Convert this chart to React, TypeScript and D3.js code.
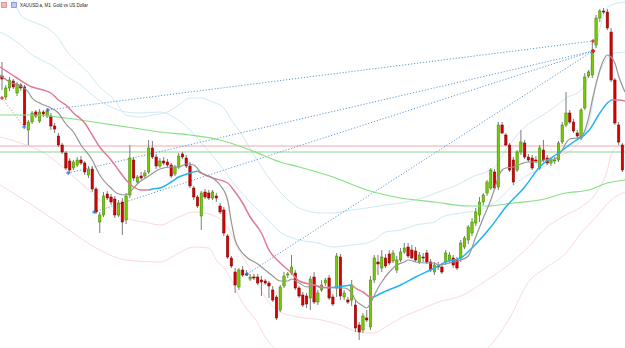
import React from "react";
import * as d3 from "d3";

const W = 625;
const H = 348;

const title = "XAUUSD.a, M1: Gold vs US Dollar";

// OHLC of the visible M1 bars, oldest first
const opens = [
  2427.4, 2425.3, 2426.2, 2426.9, 2425.7, 2426.5, 2426.3, 2422.0, 2422.8, 2423.8,
  2422.9, 2423.8, 2423.4, 2423.4, 2422.4, 2421.4, 2420.5, 2419.7, 2418.9, 2418.2,
  2418.5, 2419.0, 2418.7, 2417.5, 2418.1, 2416.1, 2412.8, 2413.5, 2415.6, 2415.3,
  2415.1, 2413.5, 2414.8, 2413.0, 2415.5, 2419.0, 2416.8, 2417.4, 2417.4, 2417.8,
  2420.2, 2419.3, 2418.4, 2418.9, 2418.8, 2418.5, 2417.6, 2418.3, 2419.6, 2419.2,
  2418.4, 2416.2, 2415.3, 2413.4, 2415.8, 2415.7, 2415.2, 2415.4, 2414.4, 2414.0,
  2411.4, 2409.2, 2407.8, 2406.3, 2408.0, 2407.6, 2407.1, 2407.3, 2407.3, 2407.0,
  2406.9, 2406.7, 2406.0, 2405.3, 2404.0, 2406.4, 2407.5, 2407.7, 2407.7, 2406.2,
  2405.5, 2405.4, 2405.2, 2407.3, 2404.8, 2406.0, 2406.7, 2407.2, 2405.3, 2406.2,
  2409.3, 2405.3, 2405.0, 2405.0, 2404.5, 2402.5, 2402.0, 2403.2, 2402.3, 2407.0,
  2408.8, 2408.2, 2409.2, 2409.6, 2408.9, 2408.0, 2409.0, 2409.8, 2410.3, 2410.0,
  2409.9, 2408.8, 2409.3, 2409.7, 2408.8, 2407.8, 2408.4, 2408.3, 2408.8, 2409.0,
  2409.2, 2409.0, 2409.2, 2410.3, 2411.0, 2411.7, 2412.7, 2413.5, 2414.8, 2415.7,
  2416.2, 2417.8, 2416.3, 2422.5, 2421.5, 2420.5, 2419.0, 2418.0, 2419.8, 2420.7,
  2419.3, 2419.2, 2419.0, 2418.2, 2420.0, 2419.2, 2418.7, 2418.9, 2419.0, 2420.8,
  2422.5, 2423.7, 2422.8, 2421.7, 2421.2, 2424.2, 2427.4, 2427.5, 2430.5, 2433.2,
  2433.9, 2433.8, 2431.8, 2427.0, 2422.5, 2420.5,
];
const highs = [
  2428.8, 2426.5, 2427.3, 2427.1, 2426.8, 2426.7, 2426.5, 2423.0, 2423.9, 2424.0,
  2424.1, 2424.0, 2424.2, 2423.7, 2422.7, 2421.7, 2420.7, 2419.9, 2419.2, 2419.0,
  2419.3, 2419.4, 2418.9, 2418.4, 2418.4, 2416.3, 2413.8, 2415.8, 2415.9, 2415.6,
  2415.4, 2415.0, 2415.2, 2415.7, 2420.5, 2419.3, 2417.5, 2417.8, 2418.0, 2421.0,
  2420.9, 2419.6, 2419.2, 2419.3, 2419.1, 2418.7, 2418.5, 2419.7, 2419.8, 2419.5,
  2418.8, 2416.4, 2415.5, 2415.9, 2416.1, 2416.0, 2416.0, 2415.7, 2414.7, 2414.3,
  2411.6, 2409.4, 2408.2, 2408.2, 2408.4, 2408.0, 2407.6, 2407.6, 2407.6, 2407.4,
  2407.1, 2406.9, 2406.4, 2405.5, 2406.5, 2407.8, 2407.8, 2409.5, 2408.0, 2406.4,
  2405.8, 2405.7, 2407.4, 2407.8, 2406.0, 2407.0, 2407.2, 2407.5, 2405.6, 2409.7,
  2409.6, 2406.0, 2405.3, 2407.0, 2405.0, 2402.8, 2403.7, 2404.0, 2407.4, 2409.5,
  2409.5, 2410.0, 2409.6, 2410.0, 2410.0, 2409.4, 2410.2, 2410.7, 2410.7, 2410.5,
  2410.3, 2409.8, 2409.7, 2410.0, 2409.1, 2408.8, 2408.8, 2408.6, 2410.0, 2409.8,
  2409.5, 2409.3, 2411.0, 2411.4, 2412.5, 2413.2, 2414.2, 2415.3, 2415.7, 2417.0,
  2418.2, 2418.1, 2422.8, 2422.8, 2421.7, 2420.7, 2419.3, 2420.0, 2422.0, 2421.0,
  2419.6, 2419.5, 2419.4, 2420.5, 2421.0, 2419.5, 2419.2, 2419.3, 2420.9, 2422.8,
  2425.8, 2424.0, 2423.1, 2422.0, 2424.2, 2427.7, 2428.0, 2431.0, 2433.5, 2434.1,
  2434.2, 2434.1, 2432.2, 2427.2, 2422.8, 2420.7,
];
const lows = [
  2426.0, 2425.0, 2425.9, 2426.1, 2425.4, 2425.9, 2422.3, 2420.5, 2422.6, 2423.2,
  2422.7, 2423.3, 2423.2, 2422.0, 2421.7, 2420.3, 2419.6, 2418.0, 2417.7, 2418.0,
  2418.3, 2418.5, 2417.5, 2417.2, 2415.8, 2413.6, 2411.7, 2413.3, 2415.0, 2414.5,
  2413.2, 2413.3, 2411.5, 2412.6, 2415.2, 2416.9, 2416.6, 2417.0, 2417.2, 2417.6,
  2419.1, 2418.1, 2418.2, 2418.5, 2418.3, 2417.2, 2417.4, 2418.1, 2419.1, 2418.2,
  2416.2, 2415.0, 2414.2, 2412.0, 2415.1, 2415.0, 2415.0, 2414.8, 2413.6, 2411.4,
  2409.1, 2408.2, 2405.7, 2406.0, 2407.3, 2407.4, 2406.9, 2407.0, 2406.5, 2405.4,
  2406.5, 2405.2, 2404.8, 2403.0, 2403.8, 2406.2, 2407.2, 2407.5, 2406.0, 2405.2,
  2404.3, 2404.2, 2404.0, 2404.6, 2404.5, 2405.8, 2406.4, 2405.0, 2404.4, 2405.3,
  2405.0, 2405.0, 2404.6, 2404.4, 2401.8, 2401.0, 2401.7, 2402.8, 2402.0, 2406.7,
  2407.5, 2407.8, 2408.2, 2408.5, 2408.7, 2407.7, 2408.8, 2409.6, 2409.2, 2409.1,
  2408.8, 2408.6, 2408.8, 2408.6, 2407.8, 2407.5, 2408.0, 2407.6, 2408.5, 2408.7,
  2408.2, 2408.0, 2408.8, 2410.1, 2410.6, 2411.4, 2412.4, 2412.8, 2414.5, 2415.4,
  2416.0, 2416.0, 2416.0, 2421.6, 2420.4, 2417.8, 2416.5, 2417.8, 2419.5, 2419.1,
  2418.8, 2418.0, 2418.7, 2418.0, 2418.8, 2418.5, 2418.4, 2418.6, 2418.8, 2420.6,
  2422.3, 2422.6, 2421.7, 2421.1, 2421.0, 2424.0, 2427.2, 2427.2, 2430.2, 2432.8,
  2433.6, 2432.0, 2426.8, 2422.5, 2420.5, 2417.8,
];
const closes = [
  2427.1, 2426.2, 2427.0, 2426.3, 2426.6, 2426.2, 2422.5, 2422.8, 2423.7, 2423.4,
  2423.8, 2423.6, 2423.9, 2422.4, 2422.1, 2420.5, 2419.8, 2418.2, 2418.0, 2418.8,
  2419.0, 2418.7, 2417.8, 2418.1, 2416.1, 2413.8, 2413.5, 2415.4, 2415.2, 2414.8,
  2413.5, 2414.7, 2412.8, 2415.4, 2419.2, 2417.2, 2417.3, 2417.2, 2417.7, 2420.2,
  2419.3, 2418.4, 2418.9, 2418.7, 2418.5, 2417.4, 2418.3, 2419.4, 2419.3, 2418.4,
  2416.4, 2415.3, 2414.4, 2415.7, 2415.3, 2415.2, 2415.8, 2415.2, 2413.8, 2411.7,
  2409.3, 2408.4, 2406.5, 2408.0, 2407.5, 2407.5, 2407.3, 2407.2, 2406.7, 2406.8,
  2406.7, 2406.4, 2405.0, 2403.2, 2406.3, 2407.4, 2407.6, 2408.3, 2406.2, 2405.4,
  2404.5, 2404.6, 2407.1, 2404.8, 2405.7, 2406.5, 2407.0, 2405.2, 2404.6, 2409.4,
  2405.4, 2405.7, 2404.8, 2406.5, 2402.2, 2401.8, 2403.4, 2403.0, 2407.0, 2409.2,
  2408.6, 2409.3, 2408.4, 2408.7, 2409.7, 2409.0, 2409.8, 2410.2, 2409.4, 2409.2,
  2409.0, 2409.5, 2409.2, 2408.8, 2408.0, 2408.5, 2408.3, 2407.8, 2409.7, 2409.5,
  2408.5, 2408.2, 2410.7, 2411.2, 2412.3, 2412.8, 2413.8, 2414.8, 2415.5, 2416.8,
  2418.0, 2416.2, 2422.5, 2421.7, 2420.5, 2418.0, 2416.8, 2419.8, 2420.8, 2419.3,
  2419.0, 2418.2, 2418.9, 2420.2, 2419.0, 2418.7, 2419.0, 2419.0, 2420.7, 2422.5,
  2423.7, 2422.8, 2421.9, 2421.4, 2424.0, 2427.3, 2427.8, 2430.0, 2433.2, 2433.9,
  2433.8, 2432.2, 2427.0, 2422.7, 2420.8, 2418.0,
];

type Pt = [number, number]; // [bar index, price]

// fast moving average (grey)
const fastMa: Pt[] = [
  [-0.5, 2427.5], [2, 2426.8], [5, 2426.4], [7, 2425.8], [8, 2425.2], [10, 2424.7],
  [13, 2424.2], [15, 2423.7], [17, 2422.6], [19, 2421.8], [21, 2420.5], [24, 2419.0],
  [26, 2417.5], [29, 2416.2], [31, 2415.6], [33, 2415.5], [34, 2415.8], [36, 2416.6],
  [39, 2417.4], [41, 2417.9], [42, 2418.1], [45, 2418.3], [47, 2418.3], [49, 2418.6],
  [51, 2418.5], [53, 2417.7], [56, 2417.2], [58, 2416.5], [60, 2415.0], [61, 2412.8],
  [62, 2411.0], [63, 2410.2], [65, 2409.3], [68, 2408.6], [70, 2408.0], [72, 2407.4],
  [74, 2406.9], [76, 2406.9], [77, 2407.1], [79, 2406.7], [81, 2406.3], [83, 2406.5],
  [85, 2406.2], [87, 2406.3], [89, 2406.2], [91, 2406.2], [93, 2405.7], [94, 2405.0],
  [96, 2404.4], [97, 2404.2], [98, 2404.7], [100, 2406.2], [101, 2406.8], [103, 2407.8],
  [105, 2408.5], [107, 2408.8], [108, 2409.0], [110, 2408.8], [113, 2408.7], [115, 2408.7],
  [116, 2408.5], [118, 2408.6], [120, 2408.8], [122, 2409.0], [124, 2409.4], [126, 2411.3],
  [128, 2413.2], [130, 2415.0], [131, 2416.1], [132, 2417.3], [133, 2418.0], [134, 2418.2],
  [136, 2418.3], [138, 2418.6], [140, 2418.8], [143, 2418.8], [144, 2419.0], [147, 2419.1],
  [149, 2420.0], [150, 2420.7], [151, 2421.1], [153, 2421.2], [154, 2421.3], [156, 2423.2],
  [157, 2425.0], [159, 2428.0], [160, 2429.0], [161, 2429.5], [162, 2429.3], [163, 2428.7],
  [164, 2427.4], [165, 2426.4], [165.7, 2425.8],
];

// trend moving average, blue while rising and pink while falling
const trendMa: Pt[] = [
  [-0.5, 2428.3], [4, 2427.2], [8, 2426.3], [11, 2426.0], [13, 2425.7], [15, 2425.0],
  [17, 2424.5], [19, 2423.7], [22, 2422.7], [24, 2421.5], [26, 2420.3], [29, 2419.0],
  [31, 2418.0], [33, 2417.0], [35, 2416.3], [37, 2416.0], [39, 2416.0], [40, 2416.1],
  [42, 2416.2], [45, 2416.8], [47, 2417.3], [50, 2417.7], [52, 2417.9], [53, 2417.7],
  [56, 2417.2], [60, 2416.7], [62, 2415.8], [64, 2414.7], [66, 2413.3], [69, 2411.7],
  [71, 2410.0], [74, 2408.7], [77, 2407.7], [79, 2406.9], [83, 2406.5], [85, 2406.3],
  [87, 2406.2], [89, 2406.3], [91, 2406.4], [93, 2406.5], [94, 2406.2], [96, 2405.8],
  [98, 2405.3], [99, 2405.3], [101, 2405.7], [106, 2406.5], [110, 2407.3], [115, 2408.2],
  [118, 2408.8], [122, 2409.2], [125, 2410.2], [130, 2412.3], [134, 2414.3], [139, 2416.3],
  [143, 2418.3], [148, 2419.7], [152, 2420.8], [156, 2421.9], [159, 2423.7], [161, 2424.7],
  [162, 2425.0], [164, 2425.0], [165.7, 2424.9],
];

// slow moving average (green)
const slowMa: Pt[] = [
  [-0.5, 2423.5], [8, 2423.5], [17, 2423.2], [26, 2422.7], [35, 2422.2], [42, 2421.8],
  [50, 2421.5], [58, 2421.0], [66, 2420.0], [74, 2418.8], [79, 2418.3], [88, 2417.3],
  [97, 2416.0], [106, 2415.2], [115, 2414.8], [124, 2414.4], [129, 2414.4], [136, 2414.7],
  [143, 2415.0], [150, 2415.7], [156, 2416.0], [161, 2416.7], [165.7, 2417.0],
];

// envelope bands
const upperOuter: Pt[] = [
  [-0.5, 2436.5], [3, 2435.0], [5, 2433.5], [7, 2433.0], [9, 2432.7], [12, 2432.2],
  [15, 2431.2], [17, 2430.0], [20, 2428.8], [23, 2427.7], [26, 2426.3], [30, 2425.0],
  [33, 2423.5], [37, 2423.3], [40, 2423.5], [44, 2423.8], [47, 2424.5], [50, 2425.2],
  [53, 2425.2], [56, 2424.8], [59, 2424.2], [61, 2423.0], [63, 2422.0], [67, 2419.5],
  [71, 2417.2], [75, 2415.4], [79, 2414.2], [85, 2413.7], [88, 2413.7], [93, 2414.0],
  [97, 2414.2], [102, 2414.5], [106, 2414.7], [111, 2415.1], [116, 2415.8], [121, 2416.5],
  [125, 2417.3], [131, 2418.3], [134, 2420.0], [139, 2422.3], [143, 2423.3], [147, 2424.3],
  [150, 2425.2], [154, 2426.0], [156, 2427.5], [158, 2430.5], [160, 2433.5], [162, 2434.5],
  [165.7, 2434.8],
];
const upperInner: Pt[] = [
  [-0.5, 2431.8], [2, 2431.3], [5, 2430.5], [8, 2429.5], [11, 2428.9], [14, 2428.3],
  [17, 2427.4], [21, 2426.5], [24, 2425.5], [29, 2424.3], [33, 2423.8], [37, 2423.7],
  [42, 2423.8], [46, 2423.2], [50, 2422.0], [54, 2420.3], [58, 2418.5], [63, 2416.0],
  [69, 2413.7], [74, 2411.8], [79, 2411.0], [84, 2410.7], [88, 2410.3], [93, 2410.5],
  [97, 2410.7], [99, 2411.0], [102, 2411.8], [106, 2412.0], [110, 2412.5], [115, 2412.8],
  [117, 2413.3], [122, 2413.7], [127, 2414.0], [132, 2415.0], [136, 2416.5], [140, 2417.5],
  [145, 2418.5], [148, 2419.3], [152, 2420.2], [156, 2422.5], [158, 2426.5], [161, 2429.2],
  [163, 2429.7], [165.7, 2429.8],
];
const lowerInner: Pt[] = [
  [-0.5, 2421.3], [5, 2420.7], [12, 2419.5], [17, 2418.0], [24, 2415.7], [31, 2413.5],
  [39, 2412.7], [42, 2412.5], [47, 2413.3], [51, 2413.8], [55, 2413.6], [60, 2412.3],
  [63, 2410.0], [67, 2407.5], [70, 2405.3], [74, 2403.8], [79, 2403.3], [85, 2403.0],
  [90, 2402.5], [95, 2401.8], [99, 2401.7], [102, 2402.3], [106, 2403.2], [111, 2404.0],
  [116, 2404.8], [122, 2405.4], [129, 2407.0], [134, 2408.3], [140, 2410.3], [145, 2412.3],
  [149, 2413.3], [154, 2414.3], [158, 2415.7], [161, 2418.0], [162, 2419.5], [164, 2420.4],
  [165.7, 2420.5],
];
const lowerOuter: Pt[] = [
  [-0.5, 2416.5], [8, 2414.5], [17, 2412.2], [26, 2410.0], [33, 2409.0], [42, 2408.8],
  [47, 2409.7], [51, 2410.3], [55, 2410.2], [57, 2409.0], [60, 2407.7], [64, 2404.7],
  [68, 2402.7], [70, 2401.3], [73, 2400.0], [79, 2398.5], [106, 2397.8], [122, 2398.8],
  [130, 2400.5], [135, 2403.2], [140, 2406.8], [145, 2408.3], [150, 2409.7], [154, 2411.7],
  [158, 2413.3], [162, 2415.0], [165.7, 2415.8],
];

// horizontal price levels
const levels = [2420.4, 2419.8];

// trade history: [open bar, open price, close bar, close price, type]
const trades: [number, number, number, number, string][] = [
  [0, 2425.2, 5.9, 2422.3, "sell"],
  [12.2, 2424.0, 157.2, 2430.9, "buy"],
  [17.6, 2417.7, 157.2, 2429.9, "buy"],
  [24.5, 2413.8, 157.2, 2429.9, "buy"],
  [65.2, 2407.6, 157.2, 2429.9, "buy"],
];

const BULL = "#74cc00";
const BULL_EDGE = "#3f7d00";
const BEAR = "#d80000";
const BEAR_EDGE = "#7a0000";
const BLUE = "#2a6fe0";
const RED = "#e02020";

function Cross({ cx, cy, color }: { cx: number; cy: number; color: string }) {
  return (
    <g stroke={color} strokeWidth={1}>
      <line x1={cx - 2} x2={cx + 2} y1={cy} y2={cy} />
      <line x1={cx} x2={cx} y1={cy - 2} y2={cy + 2} />
    </g>
  );
}

export default function App() {
  const x = d3.scaleLinear().domain([0, opens.length - 1]).range([2, 622.4]);
  const y = d3.scaleLinear().domain([2400.2, 2435]).range([H, 0]);
  const line = d3
    .line<Pt>()
    .x((d) => x(d[0]))
    .y((d) => y(d[1]))
    .curve(d3.curveMonotoneX);

  // split trend MA into rising / falling runs
  const runs: { up: boolean; pts: Pt[] }[] = [];
  for (let i = 1; i < trendMa.length; i++) {
    const up = trendMa[i][1] > trendMa[i - 1][1];
    const last = runs[runs.length - 1];
    if (last && last.up === up) last.pts.push(trendMa[i]);
    else runs.push({ up, pts: [trendMa[i - 1], trendMa[i]] });
  }

  const bodyW = 2.4;

  return (
    <svg
      width={W}
      height={H}
      style={{ position: "fixed", left: 0, top: 0, background: "#fff" }}
    >
      <rect width={W} height={H} fill="#fff" />

      {/* bands */}
      <path d={line(upperOuter) || ""} fill="none" stroke="#cfe9f3" strokeWidth={1} />
      <path d={line(upperInner) || ""} fill="none" stroke="#cfe9f3" strokeWidth={1} />
      <path d={line(lowerInner) || ""} fill="none" stroke="#fbd9dc" strokeWidth={1} />
      <path d={line(lowerOuter) || ""} fill="none" stroke="#fbd9dc" strokeWidth={1} />

      {/* horizontal levels */}
      <line x1={0} x2={W} y1={y(levels[0])} y2={y(levels[0])} stroke="#f2a7ab" strokeWidth={1} />
      <line x1={0} x2={W} y1={y(levels[1])} y2={y(levels[1])} stroke="#93d493" strokeWidth={1} />

      {/* trade lines */}
      {trades.map((t, i) => (
        <line
          key={"t" + i}
          x1={x(t[0])}
          y1={y(t[1])}
          x2={x(t[2])}
          y2={y(t[3])}
          stroke={t[4] === "buy" ? "#5d9ad8" : "#e98a8a"}
          strokeWidth={1}
          strokeDasharray="1.2 1.8"
        />
      ))}

      {/* candles */}
      {opens.map((o, i) => {
        const c = closes[i];
        const cx = x(i);
        const up = c > o;
        const flat = c === o;
        const top = y(Math.max(o, c));
        const h = Math.max(0.8, y(Math.min(o, c)) - top);
        return (
          <g key={"c" + i}>
            <line
              x1={cx}
              x2={cx}
              y1={y(highs[i])}
              y2={y(lows[i])}
              stroke="#7d7d7d"
              strokeWidth={1}
            />
            <rect
              x={cx - bodyW / 2}
              y={top}
              width={bodyW}
              height={h}
              fill={flat ? "#9a9a9a" : up ? BULL : BEAR}
              stroke={flat ? "#666" : up ? BULL_EDGE : BEAR_EDGE}
              strokeWidth={0.5}
            />
          </g>
        );
      })}

      {/* moving averages */}
      <path d={line(slowMa) || ""} fill="none" stroke="#86e086" strokeWidth={1.2} />
      {runs.map((r, i) => (
        <path
          key={"r" + i}
          d={line(r.pts) || ""}
          fill="none"
          stroke={r.up ? "#22b4f2" : "#e07b96"}
          strokeWidth={1.5}
        />
      ))}
      <path d={line(fastMa) || ""} fill="none" stroke="#959595" strokeWidth={1.2} />

      {/* trade markers */}
      {trades.map((t, i) => (
        <g key={"m" + i}>
          <Cross cx={x(t[0])} cy={y(t[1])} color={t[4] === "buy" ? BLUE : RED} />
          <Cross cx={x(t[2])} cy={y(t[3])} color={t[4] === "buy" ? RED : BLUE} />
        </g>
      ))}

      {/* header */}
      <rect x={1.5} y={2.5} width={5} height={5} fill="#f3b9b9" stroke="#c46a6a" strokeWidth={0.6} />
      <rect x={11.5} y={2.5} width={5} height={5} fill="#b7cdf2" stroke="#5574c2" strokeWidth={0.6} />
      <text
        x={20}
        y={7.2}
        fontFamily="Liberation Sans, Arial, sans-serif"
        fontSize={4.8}
        fill="#222"
        textLength={68}
        lengthAdjust="spacingAndGlyphs"
      >
        {title}
      </text>
    </svg>
  );
}
